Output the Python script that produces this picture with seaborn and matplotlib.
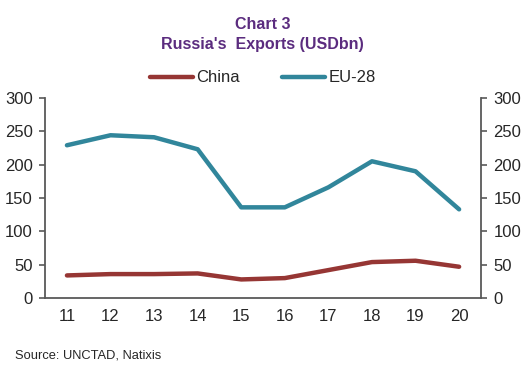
import matplotlib
matplotlib.use("Agg")
import matplotlib.pyplot as plt
import seaborn as sns
import pandas as pd
import numpy as np

years = ["11", "12", "13", "14", "15", "16", "17", "18", "19", "20"]
china = [34, 36, 36, 37, 28, 30, 42, 54, 56, 47]
eu28 = [229, 244, 241, 223, 136, 136, 166, 205, 190, 133]
y_ticks = [0, 50, 100, 150, 200, 250, 300]

sns.set_style("white")
plt.rcParams['font.family'] = ['Liberation Sans', 'DejaVu Sans']

df = pd.DataFrame({
    "pos": list(range(len(years))) * 2,
    "value": china + eu28,
    "series": ["China"] * len(years) + ["EU-28"] * len(years),
})

fig = plt.figure(figsize=(5.25, 3.75), dpi=100)
ax = fig.add_axes([0.086, 0.205, 0.830, 0.534])

sns.lineplot(data=df, x="pos", y="value", hue="series",
             palette={"China": "#963634", "EU-28": "#31869b"},
             linewidth=3.2, ax=ax, legend=False)

axis_col = "#595959"
ax.set_xlim(-0.5, len(years) - 0.5)
ax.set_ylim(0, 300)
ax.set_yticks(y_ticks)
ax.set_xticks(np.arange(-0.5, len(years), 1.0))
ax.set_xticklabels([])
ax.set_xticks(range(len(years)), minor=True)
ax.set_xticklabels(years, minor=True)
ax.tick_params(axis="x", which="minor", length=0, pad=8, labelsize=12)
ax.tick_params(axis="x", which="major", length=4, color=axis_col, width=1.2)
ax.tick_params(axis="y", which="major", length=4, color=axis_col, width=1.2,
               left=True, right=True, labelleft=True, labelright=True,
               labelsize=12, pad=5)
ax.set_xlabel("")
ax.set_ylabel("")

for side in ["left", "right", "bottom"]:
    ax.spines[side].set_visible(True)
    ax.spines[side].set_color(axis_col)
    ax.spines[side].set_linewidth(1.3)
ax.spines["top"].set_visible(False)

title_col = "#5b2c7f"
fig.text(0.5, 0.935, "Chart 3", ha="center", va="center",
         fontsize=11.5, fontweight="bold", color=title_col)
fig.text(0.5, 0.882, "Russia's  Exports (USDbn)", ha="center", va="center",
         fontsize=11.5, fontweight="bold", color=title_col)

handles = [plt.Line2D([], [], color="#963634", lw=3.2, solid_capstyle="round"),
           plt.Line2D([], [], color="#31869b", lw=3.2, solid_capstyle="round")]
fig.legend(handles, ["China", "EU-28"], loc="center", bbox_to_anchor=(0.5, 0.792),
           ncol=2, frameon=False, fontsize=12, handlelength=2.6,
           handletextpad=0.2, columnspacing=2.5)

fig.text(0.028, 0.053, "Source: UNCTAD, Natixis", ha="left", va="center", fontsize=9.3)

fig.savefig("out.png", dpi=100)
